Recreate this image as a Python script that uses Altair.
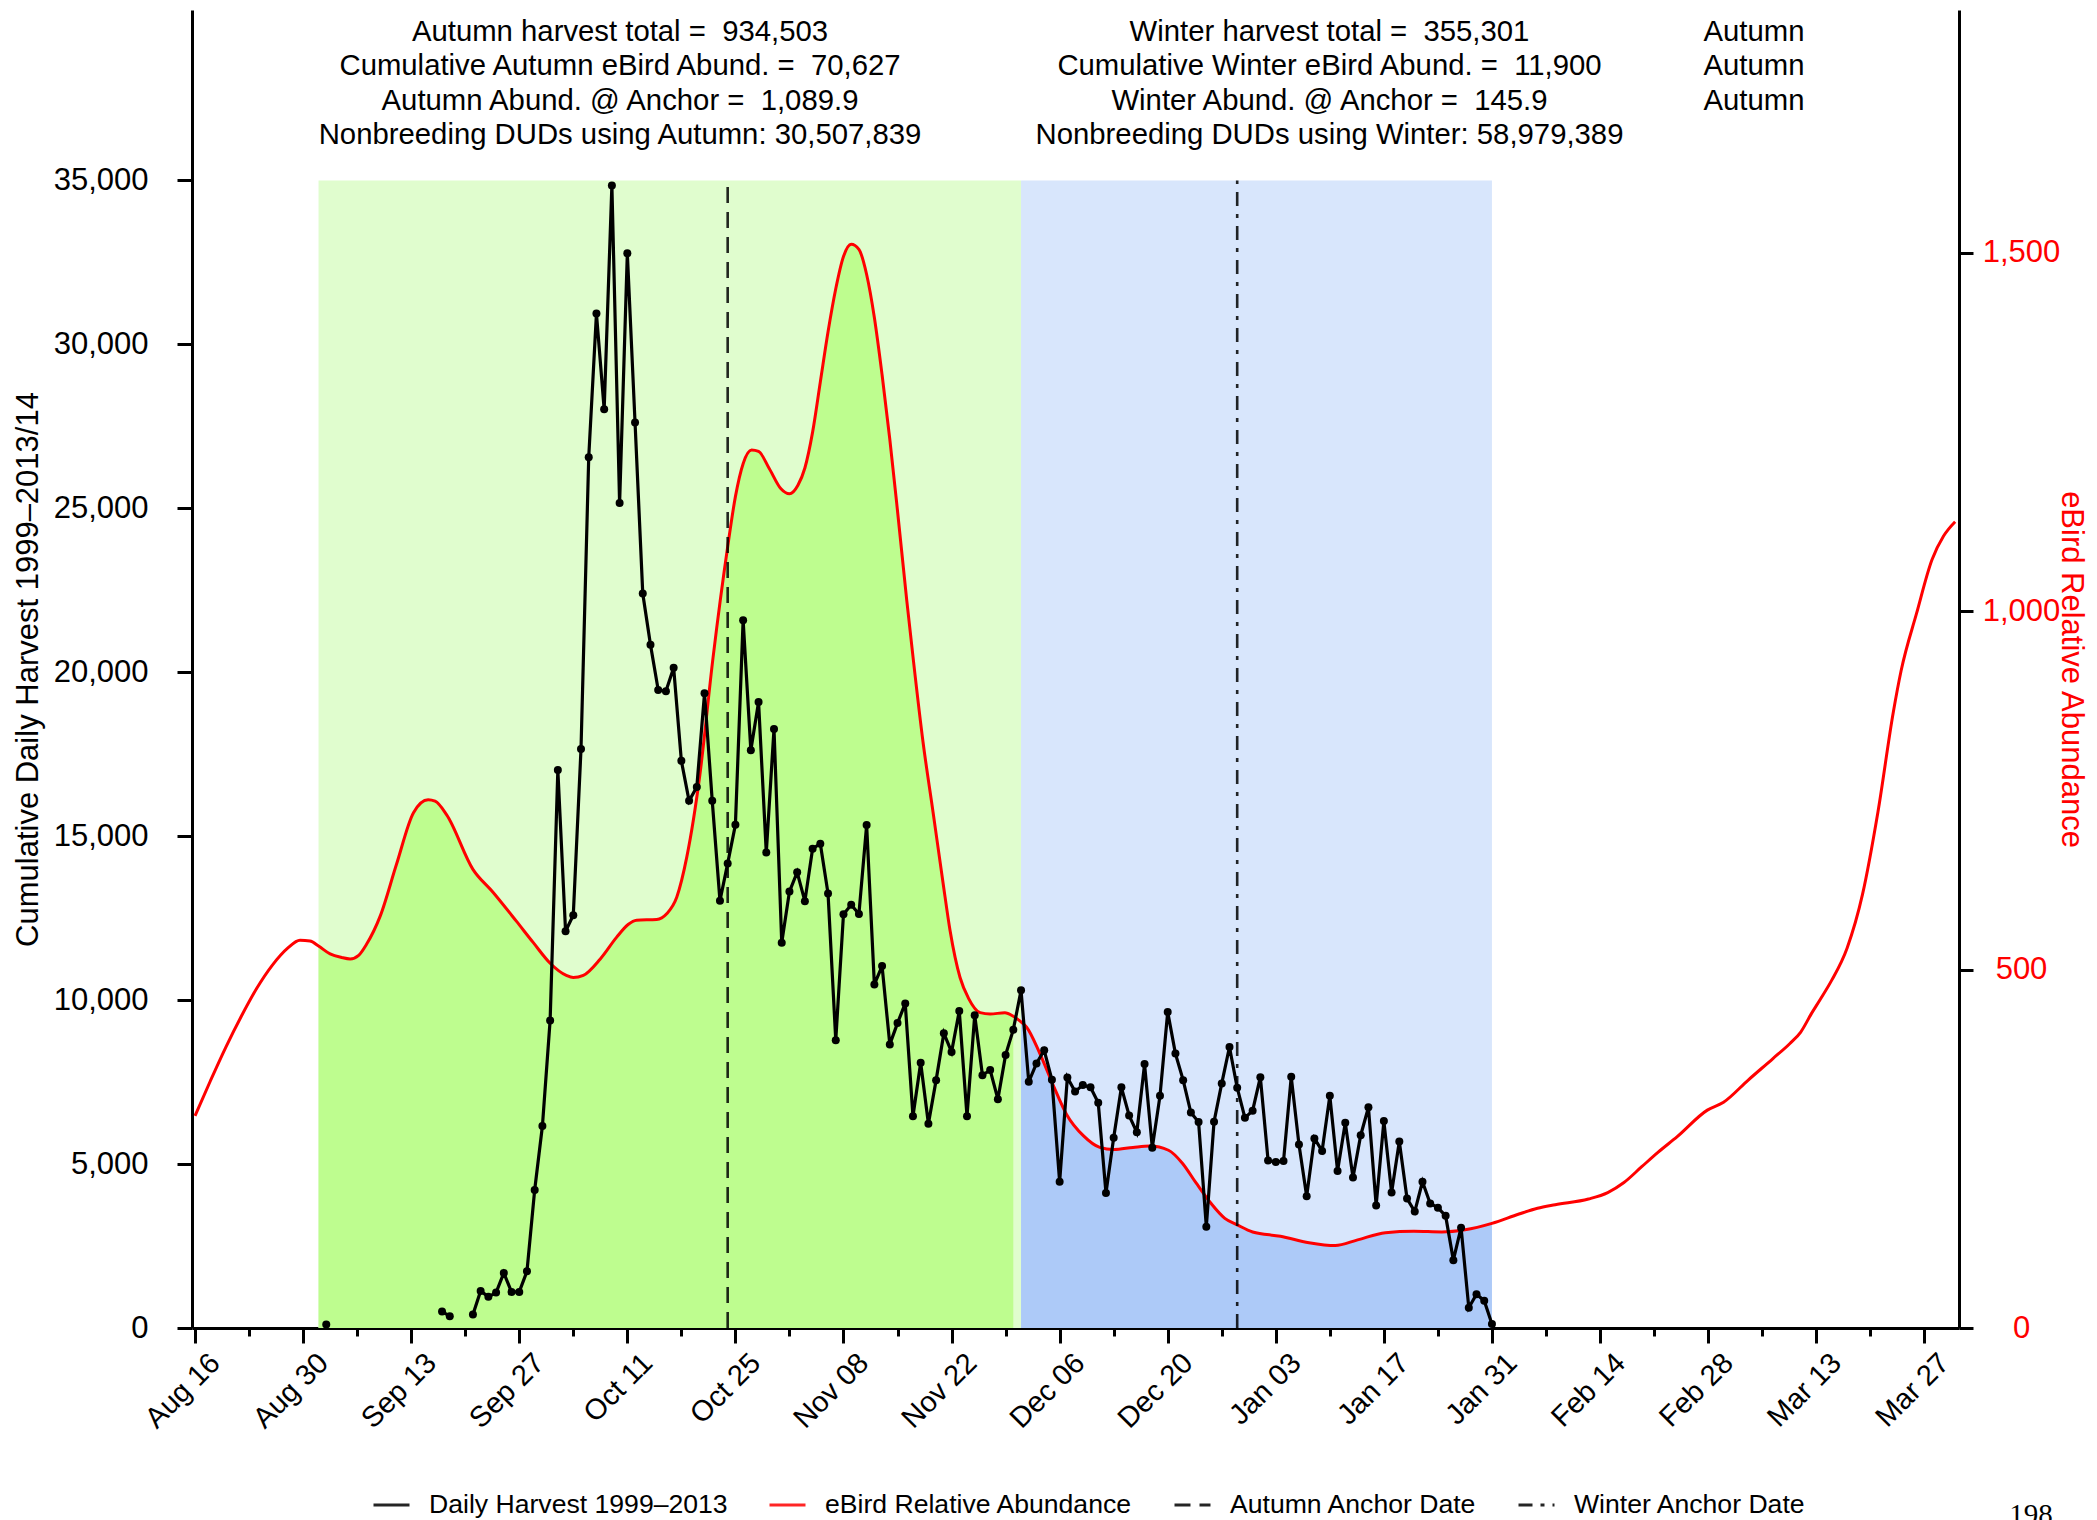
import altair as alt
import pandas as pd

# ---------------- data ----------------
SERIES = ["Daily Harvest 1999\u20132013", "eBird Relative Abundance",
          "Autumn Anchor Date", "Winter Anchor Date"]
SERIES_COLORS = ["black", "red", "black", "black"]
SERIES_DASH = [[1, 0], [1, 0], [16, 9], [14, 8, 4, 8]]

tick_labels = ["Aug 16", "Aug 30", "Sep 13", "Sep 27", "Oct 11", "Oct 25", "Nov 08",
               "Nov 22", "Dec 06", "Dec 20", "Jan 03", "Jan 17", "Jan 31", "Feb 14",
               "Feb 28", "Mar 13", "Mar 27"]

# days counted from Aug 16
harvest_day = [17, 32, 33] + list(range(36, 169))
harvest_val = [110, 500, 360,
               410, 1130, 950, 1080, 1680, 1100, 1100, 1730, 4210, 6160,
               9380, 17020, 12100, 12590, 17660, 26560, 30940, 28020, 34850, 25160,
               32780, 27620, 22400, 20840, 19460, 19420, 20140, 17300, 16080, 16500,
               19360, 16080, 13030, 14170, 15350, 21590, 17620, 19090, 14500, 18270,
               11750, 13310, 13900, 13020, 14620, 14770, 13250, 8780, 12620, 12910,
               12630, 15340, 10480, 11040, 8650, 9300, 9900, 6460, 8090, 6230,
               7560, 8990, 8420, 9670, 6460, 9540, 7710, 7870, 6980, 8330,
               9100, 10300, 7510, 8070, 8470, 7570, 4460, 7640, 7210, 7410,
               7340, 6870, 4120, 5800, 7340, 6480, 5970, 8050, 5500, 7080,
               9640, 8370, 7560, 6570, 6280, 3090, 6290, 7460, 8570, 7330,
               6410, 6630, 7650, 5110, 5060, 5090, 7660, 5600, 4020, 5780,
               5400, 7080, 4790, 6260, 4590, 5880, 6730, 3740, 6310, 4130,
               5690, 3950, 3550, 4460, 3800, 3670, 3420, 2070, 3060, 620,
               1030, 830, 120]

ebird_day = [0, 2, 4, 6, 8, 10, 12, 13.6, 14.9, 16, 17.5, 19, 20.1, 21.2, 22.2, 24,
             26.1, 28.3, 30.2, 31.1, 32.6, 36, 38.6, 41.6, 43.8, 46, 48.1, 49, 50.3,
             52.5, 54.6, 56.1, 57.2, 59.8, 61.1, 62.4, 63.7, 65.4, 67.1, 69, 70, 71,
             72.1, 73, 74.4, 75.9, 77, 78.1, 79, 80, 81, 82, 83, 84, 85, 86, 87, 88,
             89, 90, 91, 92.2, 93, 94.3, 95.6, 96.9, 97.8, 99.1, 100.2, 101.7, 103,
             104.9, 106, 107, 107.7, 109.4, 111.2, 112.9, 115.1, 117.2, 119, 121.5,
             123.7, 126.1, 127.9, 129.7, 131.6, 133.4, 135, 137, 140.6, 144.3, 147.7,
             150.6, 154.2, 157.9, 161.5, 164.5, 168, 171.5, 173.9, 176.2, 180.5, 183,
             185.1, 187.4, 189.5, 192, 195.9, 198, 201.2, 204.4, 206.6, 208, 209.4,
             210.5, 212, 214, 216, 218, 220, 221, 223, 225, 226.5, 228]
ebird_val = [296, 345, 392, 435, 474, 506, 530, 541, 540, 533, 522, 517, 515, 520, 535, 575,
             647, 719, 737, 735, 716, 640, 608, 568, 538, 509, 492, 489, 492,
             515, 545, 563, 569, 570, 578, 601, 657, 772, 935, 1090, 1160, 1206,
             1225, 1223, 1199, 1171, 1164, 1176, 1200, 1250, 1320, 1390, 1450, 1495, 1512, 1505, 1470, 1410,
             1330, 1240, 1140, 1015, 937, 818, 720, 621, 555, 489, 460, 440, 438,
             440, 435, 427, 420, 384, 338, 298, 268, 252, 249, 252,
             254, 248, 230, 202, 174, 153, 144, 134, 128, 119, 115,
             123, 133, 135, 134, 137, 146, 159, 167, 172, 180, 189,
             203, 225, 245, 267, 304, 315, 346, 376, 397, 413, 439,
             458, 485, 530, 605, 720, 860, 917, 997, 1072, 1105, 1125]

autumn_window = [16, 107]      # Sep 1 - Dec 1
winter_window = [107, 168]     # Dec 1 - Jan 31
autumn_fill = [16, 106]
winter_fill = [107, 168]
anchor_days = [69, 135]
band_top = 35000

col1 = ["Autumn harvest total =\u00a0 934,503",
        "Cumulative Autumn eBird Abund. =\u00a0 70,627",
        "Autumn Abund. @ Anchor =\u00a0 1,089.9",
        "Nonbreeding DUDs using Autumn: 30,507,839"]
col2 = ["Winter harvest total =\u00a0 355,301",
        "Cumulative Winter eBird Abund. =\u00a0 11,900",
        "Winter Abund. @ Anchor =\u00a0 145.9",
        "Nonbreeding DUDs using Winter: 58,979,389"]
col3 = ["Autumn", "Autumn", "Autumn"]
page_number = "198"

# ---------------- style ----------------
FONT = "Liberation Sans"
LIGHT_GREEN = "#E0FDCE"
DARK_GREEN = "#BEFD8F"
LIGHT_BLUE = "#D8E6FC"
DARK_BLUE = "#ADCAF8"
W, H = 1767, 1318

# ---------------- frames ----------------
seg = []
s = 0
for i, d in enumerate(harvest_day):
    if i > 0 and d - harvest_day[i - 1] > 1:
        s += 1
    seg.append(s)
harvest = pd.DataFrame({"day": harvest_day, "val": harvest_val, "seg": seg,
                        "series": SERIES[0]})
ebird = pd.DataFrame({"day": ebird_day, "val": ebird_val, "series": SERIES[1]})
bands = pd.DataFrame({"start": [autumn_window[0], winter_window[0]],
                      "end": [autumn_window[1], winter_window[1]],
                      "lo": [0, 0], "hi": [band_top, band_top],
                      "fill": [LIGHT_GREEN, LIGHT_BLUE]})
anchors = pd.DataFrame({"day": anchor_days, "lo": [0, 0], "hi": [band_top, band_top],
                        "series": SERIES[2:]})

x_scale = alt.Scale(domain=[-0.39, 228.5], nice=False, zero=False)
yl_scale = alt.Scale(domain=[0, 40200], nice=False)
yr_scale = alt.Scale(domain=[0, 1839], nice=False)

label_js = "[" + ",".join("'" + t + "'" for t in tick_labels) + "]"
x_axis = alt.Axis(
    values=list(range(0, 225, 7)),
    labelExpr="datum.value % 14 === 0 ? " + label_js + "[datum.value / 14] : ''",
    tickSize={"condition": {"test": "datum.value % 14 === 0", "value": 15}, "value": 8},
    tickWidth=3, tickColor="black", domainWidth=3, domainColor="black",
    labelAngle=-45, labelAlign="right", labelBaseline="top",
    labelPadding=5, labelOffset=10, labelFont=FONT, labelFontSize=29,
    labelColor="black", labelOverlap=False, labelFlush=False, labelBound=False,
    grid=False, title=None)

left_axis = alt.Axis(
    orient="left", values=list(range(0, 35001, 5000)), format=",d",
    tickSize=15, tickWidth=3, tickColor="black", domainWidth=3, domainColor="black",
    labelPadding=29, labelFont=FONT, labelFontSize=31, labelColor="black",
    labelAlign="right", labelBaseline="middle", grid=False,
    title="Cumulative Daily Harvest 1999\u20132013/14", titleFont=FONT,
    titleFontSize=31, titleFontWeight="normal", titleColor="black",
    titleX=-164, titleY=H / 2, titleAngle=270, titleBaseline="middle",
    titleAlign="center")

right_axis = alt.Axis(
    orient="right", values=[0, 500, 1000, 1500], format=",d",
    tickSize=14, tickWidth=3, tickColor="black", domainWidth=3, domainColor="black",
    labelPadding=48, labelFont=FONT, labelFontSize=31, labelColor="red",
    labelAlign="center", labelBaseline="middle", grid=False,
    title="eBird Relative Abundance", titleFont=FONT, titleFontSize=31,
    titleFontWeight="normal", titleColor="red",
    titleX=111, titleY=H / 2, titleAngle=90, titleBaseline="middle",
    titleAlign="center")

legend = alt.Legend(orient="none", legendX=180, legendY=1475, direction="horizontal",
                    columns=4, title=None, symbolType="stroke", symbolSize=1296,
                    symbolStrokeWidth=3, labelFont=FONT, labelFontSize=26.6,
                    labelColor="black", labelOffset=18, columnPadding=35,
                    labelLimit=0)
color = alt.Color("series:N", scale=alt.Scale(domain=SERIES, range=SERIES_COLORS),
                  legend=legend)
dash = alt.StrokeDash("series:N", scale=alt.Scale(domain=SERIES, range=SERIES_DASH),
                      legend=legend)


def X(f):
    return alt.X(f, scale=x_scale, axis=x_axis)


# group 1: background windows (left scale, no axis)
g1 = alt.Chart(bands).mark_rect().encode(
    x=X("start:Q"), x2="end:Q",
    y=alt.Y("lo:Q", scale=yl_scale, axis=None), y2="hi:Q",
    fill=alt.Fill("fill:N", scale=None))

# group 2: abundance (right scale)
ey = alt.Y("val:Q", scale=yr_scale, axis=right_axis)
green_area = alt.Chart(ebird).transform_filter(
    (alt.datum.day >= autumn_fill[0]) & (alt.datum.day <= autumn_fill[1])
).mark_area(interpolate="monotone", color=DARK_GREEN, opacity=1).encode(x=X("day:Q"), y=ey)
blue_area = alt.Chart(ebird).transform_filter(
    (alt.datum.day >= winter_fill[0]) & (alt.datum.day <= winter_fill[1])
).mark_area(interpolate="monotone", color=DARK_BLUE, opacity=1).encode(x=X("day:Q"), y=ey)
red_line = alt.Chart(ebird).mark_line(interpolate="monotone", strokeWidth=3).encode(
    x=X("day:Q"), y=ey, color=color)
g2 = alt.layer(green_area, blue_area, red_line)

# group 3: harvest (left scale) + anchors + text
rules = alt.Chart(anchors).mark_rule(strokeWidth=2.6, opacity=0.85).encode(
    x=X("day:Q"), y=alt.Y("lo:Q", scale=yl_scale, axis=left_axis), y2="hi:Q",
    color=color, strokeDash=dash)
black_line = alt.Chart(harvest).mark_line(
    strokeWidth=3.2, point=alt.OverlayMarkDef(filled=True, size=64, opacity=1)
).encode(x=X("day:Q"), y=alt.Y("val:Q", scale=yl_scale, axis=left_axis),
         color=color, detail="seg:N")

texts = []
one = pd.DataFrame({"k": [0]})
col_x = [428, 1137.5, 1562]
for ci, col in enumerate([col1, col2, col3]):
    for ri, line in enumerate(col):
        texts.append(alt.Chart(one).mark_text(
            text=line, font=FONT, fontSize=29.3, color="black",
            align="center", baseline="middle"
        ).encode(x=alt.value(col_x[ci]), y=alt.value(22 + 34.3 * ri)))
texts.append(alt.Chart(one).mark_text(
    text=page_number, font="Liberation Serif", fontSize=29, color="black",
    align="center", baseline="alphabetic"
).encode(x=alt.value(1839), y=alt.value(1514)))

g3 = alt.layer(rules, black_line, *texts)

chart = alt.layer(g1, g2, g3).resolve_scale(y="independent").properties(
    width=W, height=H,
    autosize=alt.AutoSizeParams(type="none"),
    padding={"left": 184, "top": 2, "right": 130, "bottom": 202},
).configure(font=FONT).configure_view(stroke=None)

chart.save("out.html", embed_options={"renderer": "svg", "actions": False})
